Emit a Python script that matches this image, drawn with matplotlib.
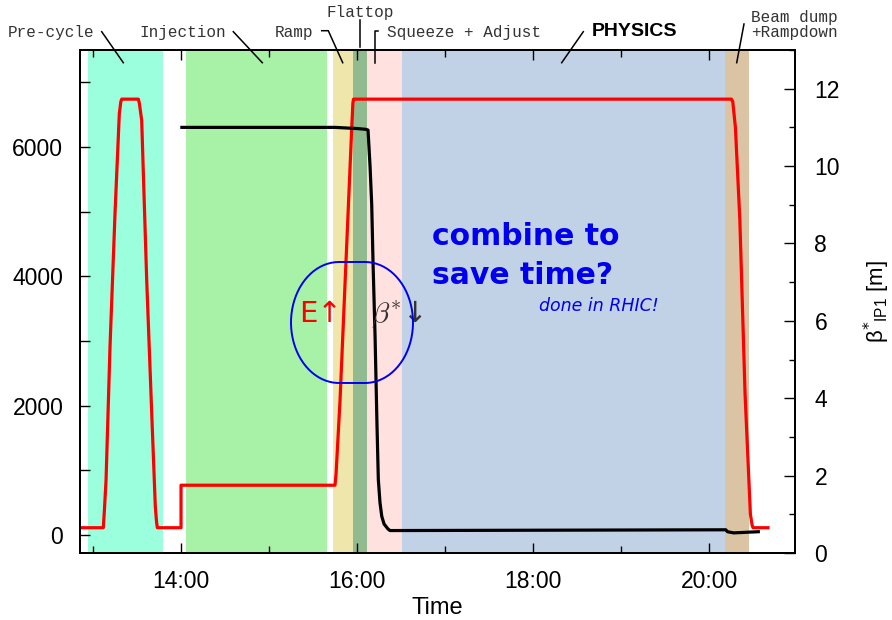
import numpy as np
import matplotlib
matplotlib.use("Agg")
import matplotlib.pyplot as plt
from matplotlib.lines import Line2D
from matplotlib.ticker import MultipleLocator, FuncFormatter

plt.rcParams['font.family'] = ['Liberation Sans', 'DejaVu Sans']

# ---------------- data ----------------
phase_names = ["Pre-cycle", "Injection", "Ramp", "Flattop", "Squeeze + Adjust", "PHYSICS", "Beam dump\n+Rampdown"]
phase_start = [12.943, 14.057, 15.727, 15.955, 16.114, 16.508, 20.18]
phase_end = [13.792, 15.659, 15.955, 16.114, 16.508, 20.18, 20.455]
phase_colors = ["#9bffdd", "#a8f2a8", "#eee6aa", "#8fbb8f", "#ffe2df", "#c1d1e6", "#dac4a4"]

energy_time = [12.85, 13.117, 13.13, 13.148, 13.193, 13.250, 13.299, 13.316, 13.326, 13.515, 13.526,
               13.553, 13.61, 13.667, 13.708, 13.722, 13.731, 14.0, 14.0, 15.75, 15.762,
               15.807, 15.864, 15.913, 15.94, 15.953, 15.96, 20.255, 20.27, 20.30, 20.35,
               20.409, 20.47, 20.49, 20.5, 20.67]
energy = [113, 113, 400, 850, 2910, 4975, 6520, 6700, 6740, 6740, 6680,
          6414, 3941, 1886, 437, 200, 113, 113, 770, 770, 950,
          2087, 3895, 5440, 6300, 6680, 6740, 6740, 6700, 6300, 4880,
          2200, 325, 150, 113, 113]

beta_time = [14.01, 15.75, 16.0, 16.1, 16.125, 16.148, 16.167, 16.182, 16.205, 16.227,
             16.242, 16.261, 16.281, 16.307, 16.352, 16.375, 20.19, 20.21, 20.28, 20.56]
beta = [11.0, 11.0, 10.97, 10.95, 10.93, 10.0, 9.0, 7.5, 5.6, 3.3,
        1.9, 1.3, 0.95, 0.75, 0.62, 0.58, 0.6, 0.55, 0.52, 0.55]

# ---------------- figure ----------------
W, H = 892, 620
fig = plt.figure(figsize=(W / 100, H / 100), dpi=100)
ax = fig.add_axes([80 / W, (H - 553) / H, 715 / W, 503 / H])
ax2 = ax.twinx()


def P(x, y):
    return x / W, 1 - y / H


for s, e, c in zip(phase_start, phase_end, phase_colors):
    ax.axvspan(s, e, color=c, lw=0, zorder=0)

ax.plot(energy_time, energy, color="#ff0000", lw=2.3, zorder=3, solid_joinstyle="round")
ax2.plot(beta_time, beta, color="black", lw=2.3, zorder=3, solid_joinstyle="round")

ax.set_xlim(12.852, 20.977)
ax.set_ylim(-278, 7500)
ax2.set_ylim(0, 13)

ax.xaxis.set_major_locator(MultipleLocator(2))
ax.xaxis.set_minor_locator(MultipleLocator(1))
ax.xaxis.set_major_formatter(FuncFormatter(lambda v, p: f"{int(round(v)):02d}:00"))
ax.yaxis.set_major_locator(MultipleLocator(2000))
ax.yaxis.set_minor_locator(MultipleLocator(1000))
ax2.yaxis.set_major_locator(MultipleLocator(2))
ax2.yaxis.set_minor_locator(MultipleLocator(1))

ax.tick_params(axis="x", which="both", direction="in", top=True, bottom=True, labelsize=16.5, pad=12)
ax.tick_params(axis="x", which="major", length=7, width=1)
ax.tick_params(axis="x", which="minor", length=5, width=1)
ax.tick_params(axis="y", which="both", direction="in", left=True, right=False, labelsize=16.5, pad=12,
               length=7, width=1)
ax2.tick_params(axis="y", which="both", direction="in", right=True, labelsize=16.5, pad=14, width=1)
ax2.tick_params(axis="y", which="major", length=8)
ax2.tick_params(axis="y", which="minor", length=4)

for a in (ax, ax2):
    for sp in a.spines.values():
        sp.set_linewidth(1.3)

ax.set_xlabel("Time", fontsize=17, labelpad=3)
ax2.set_ylabel("β$^{*}$$_{\\mathregular{IP1}}$ [m]", fontsize=16, labelpad=16)

# ---------------- phase labels ----------------
mono = dict(family=["Liberation Mono", "DejaVu Sans Mono"], fontsize=11.5, color="#333333")
fig.text(*P(94, 32), phase_names[0], ha="right", va="center", **mono)
fig.text(*P(226, 32), phase_names[1], ha="right", va="center", **mono)
fig.text(*P(313, 32), phase_names[2], ha="right", va="center", **mono)
fig.text(*P(360, 13), phase_names[3], ha="center", va="center", **mono)
fig.text(*P(387, 32), phase_names[4], ha="left", va="center", **mono)
fig.text(*P(592, 32), phase_names[5], ha="left", va="center", fontsize=14, fontweight="bold", color="black")
fig.text(*P(751, 25), phase_names[6], ha="left", va="center", linespacing=0.95, **mono)

leaders = [
    [(101.7, 31.7), (123.3, 62.7)],
    [(233.3, 31.7), (262.3, 62.7)],
    [(321.7, 30.7), (328.3, 30.7), (342.7, 62.7)],
    [(360, 20), (360, 47)],
    [(378.3, 30.7), (375, 30.7), (375, 62.7)],
    [(583.3, 31.7), (561.7, 62.7)],
    [(744, 24), (736.7, 62.7)],
]
for pts in leaders:
    xs = [p[0] / W for p in pts]
    ys = [1 - p[1] / H for p in pts]
    fig.add_artist(Line2D(xs, ys, transform=fig.transFigure, color="black", lw=1.1, zorder=10))

# ---------------- annotations ----------------
big = dict(ha="left", va="baseline", fontsize=21.5, fontweight="bold", color="#0000ee",
           family=["DejaVu Sans"])
fig.text(*P(432, 245), "combine to", **big)
fig.text(*P(432, 284), "save time?", **big)
fig.text(*P(539, 311), "done in RHIC!", ha="left", va="baseline", fontsize=12.5,
         style="italic", color="#0000ee", family=["DejaVu Sans"])

fig.text(*P(321, 314), "E↑", ha="center", va="center", fontsize=21, color="#ff0000",
         family=["DejaVu Sans"])
fig.text(*P(397, 314), "$\\beta^{*}$↓", ha="center", va="center", fontsize=21,
         color="#333333", math_fontfamily="cm", family=["DejaVu Sans"])

# stadium outline
cx_l, cx_r, cy, rx, ry = 339.0, 365.0, 322.5, 48.0, 60.5
th = np.linspace(np.pi / 2, -np.pi / 2, 80)
xr = cx_r + rx * np.cos(th)
yr = cy - ry * np.sin(th)
th2 = np.linspace(-np.pi / 2, -3 * np.pi / 2, 80)
xl = cx_l + rx * np.cos(th2)
yl = cy - ry * np.sin(th2)
sx = np.concatenate([xr, xl, xr[:1]])
sy = np.concatenate([yr, yl, yr[:1]])
fig.add_artist(Line2D(sx / W, 1 - sy / H, transform=fig.transFigure, color="#0000ee", lw=1.4, zorder=9))

fig.savefig("out.png", dpi=100)
